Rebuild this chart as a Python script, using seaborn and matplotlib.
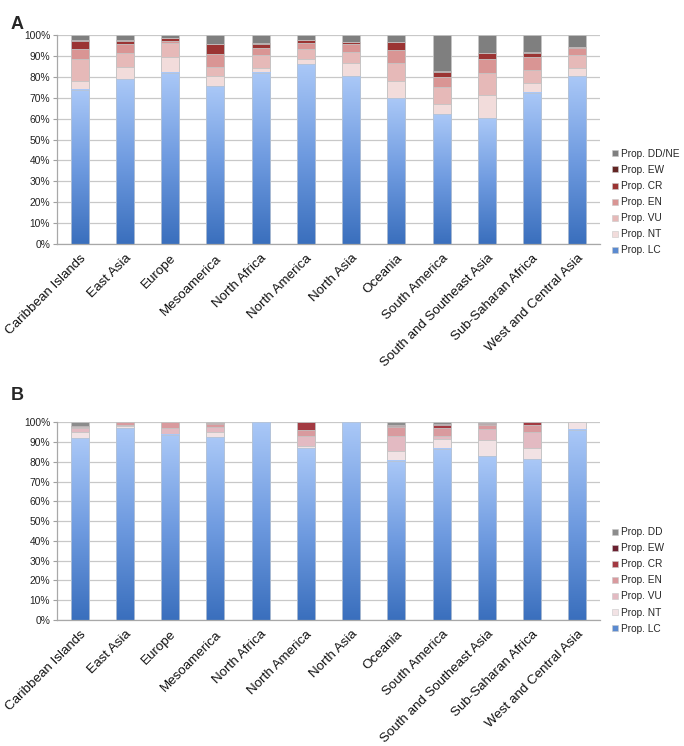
import numpy as np
import seaborn as sns
import matplotlib.pyplot as plt
from matplotlib.colors import LinearSegmentedColormap
from matplotlib.lines import Line2D
from matplotlib.patches import Rectangle

regions = ['Caribbean Islands', 'East Asia', 'Europe', 'Mesoamerica', 'North Africa',
           'North America', 'North Asia', 'Oceania', 'South America',
           'South and Southeast Asia', 'Sub-Saharan Africa', 'West and Central Asia']

# panel A, percent of species per category (LC, NT, VU, EN, CR, EW, DD/NE)
a_lc = [73.8, 78.9, 81.9, 75.6, 81.9, 86.0, 80.3, 69.8, 62.2, 60.2, 72.5, 80.3]
a_nt = [4.1, 6.0, 7.8, 4.9, 2.1, 2.7, 6.2, 8.1, 4.9, 11.1, 4.5, 4.1]
a_vu = [10.5, 6.7, 6.3, 4.4, 6.6, 4.5, 5.2, 8.9, 7.8, 10.6, 6.5, 5.9]
a_en = [4.9, 4.3, 1.1, 6.2, 3.4, 3.1, 4.2, 5.9, 5.1, 6.5, 5.9, 3.4]
a_cr = [4.0, 1.4, 1.5, 4.5, 1.9, 1.3, 0.9, 3.8, 2.5, 2.9, 2.2, 0.7]
a_ew = [0.3, 0.2, 0.1, 0.2, 0.1, 0.1, 0.1, 0.2, 0.2, 0.2, 0.1, 0.1]
a_dd = [2.4, 2.5, 1.3, 4.2, 4.0, 2.3, 3.1, 3.3, 17.3, 8.5, 8.3, 5.5]

# panel B
b_lc = [92.0, 97.0, 93.7, 92.4, 100.0, 86.8, 100.0, 80.5, 86.6, 82.9, 81.4, 96.3]
b_nt = [2.9, 1.3, 0.5, 2.5, 0.0, 1.3, 0.0, 5.1, 5.1, 8.1, 5.5, 3.7]
b_vu = [2.0, 0.5, 2.8, 2.7, 0.0, 5.1, 0.0, 7.3, 1.5, 5.8, 8.2, 0.0]
b_en = [0.6, 1.2, 3.0, 1.4, 0.0, 3.1, 0.0, 4.7, 3.9, 1.8, 3.7, 0.0]
b_cr = [0.3, 0.0, 0.0, 0.6, 0.0, 3.7, 0.0, 0.6, 1.5, 0.7, 1.2, 0.0]
b_ew = [0.2, 0.0, 0.0, 0.2, 0.0, 0.0, 0.0, 0.6, 0.3, 0.4, 0.0, 0.0]
b_dd = [2.0, 0.0, 0.0, 0.2, 0.0, 0.0, 0.0, 1.2, 1.1, 0.3, 0.0, 0.0]

labels_a = ['Prop. LC', 'Prop. NT', 'Prop. VU', 'Prop. EN', 'Prop. CR', 'Prop. EW', 'Prop. DD/NE']
labels_b = ['Prop. LC', 'Prop. NT', 'Prop. VU', 'Prop. EN', 'Prop. CR', 'Prop. EW', 'Prop. DD']

cols_a = ['#4f81c7', '#f2dcdb', '#e6b9b8', '#d99594', '#9b3433', '#632523', '#7f7f7f']
cols_b = ['#4f81c7', '#f2e2e4', '#e3bac2', '#d99a9e', '#a33a42', '#6b2030', '#8c8c8c']

lc_cmap = LinearSegmentedColormap.from_list('lc', ['#3a6fbd', '#6f9be0', '#aac8f7'])

sns.set_theme(style='white')
plt.rcParams['font.family'] = ['Liberation Sans', 'DejaVu Sans']

fig = plt.figure(figsize=(6.84, 7.46), dpi=100)
ax_a = fig.add_axes([0.0833, 0.673, 0.794, 0.280])
ax_b = fig.add_axes([0.0833, 0.169, 0.794, 0.265])


def stacked(ax, series, colors, labels):
    data = np.array(series)
    cum = np.cumsum(data, axis=0)
    # draw the tallest stack first, then cover it layer by layer
    for k in range(len(series) - 1, -1, -1):
        sns.barplot(x=regions, y=cum[k], color=colors[k], width=0.4, ax=ax,
                    edgecolor='#c4c4c4', linewidth=0.6, saturation=1)
    # gradient fill for the LC bars
    grad = np.linspace(0, 1, 256).reshape(-1, 1)
    for p in ax.containers[-1]:
        x0, y0, w, h = p.get_x(), p.get_y(), p.get_width(), p.get_height()
        ax.imshow(grad, extent=[x0, x0 + w, y0, y0 + h], origin='lower',
                  cmap=lc_cmap, aspect='auto', zorder=p.get_zorder() + 0.1)
        ax.add_patch(Rectangle((x0, y0), w, h, fill=False, edgecolor='#b8c4d4',
                               linewidth=0.6, zorder=p.get_zorder() + 0.2))

    ax.set_xlim(-0.5, 11.5)
    ax.set_ylim(0, 100)
    ax.set_yticks(range(0, 101, 10))
    ax.set_yticklabels([f'{v}%' for v in range(0, 101, 10)], fontsize=7.4, color='#222222')
    ax.set_xticks(range(len(regions)))
    ax.set_xticklabels(regions, rotation=45, ha='right', rotation_mode='anchor',
                       fontsize=9.6, color='#111111')
    ax.set_xticks(np.arange(-0.5, 12, 1), minor=True)
    ax.tick_params(axis='x', which='major', length=0, pad=6)
    ax.tick_params(axis='x', which='minor', length=4, color='#a0a0a0', width=0.8, direction='out')
    ax.tick_params(axis='y', length=3, color='#a0a0a0', width=0.8, direction='out', pad=2, left=True)
    ax.yaxis.grid(True, color='#c8c8c8', linewidth=0.9)
    ax.set_axisbelow(True)
    for s in ['top', 'right']:
        ax.spines[s].set_visible(False)
    for s in ['left', 'bottom']:
        ax.spines[s].set_color('#a8a8a8')
        ax.spines[s].set_linewidth(0.9)
    ax.set_xlabel('')
    ax.set_ylabel('')

    handles = [Line2D([], [], marker='s', linestyle='none', markersize=4.5,
                      markerfacecolor=c, markeredgecolor='#c8c8c8', markeredgewidth=0.4)
               for c in colors]
    handles[0].set_markerfacecolor('#5a8ad0')
    ax.legend(handles[::-1], labels[::-1], loc='center left', bbox_to_anchor=(1.0, 0.2),
              frameon=False, fontsize=7.3, handletextpad=0.05, labelspacing=0.6,
              handlelength=1.0, borderaxespad=0.6)


stacked(ax_a, [a_lc, a_nt, a_vu, a_en, a_cr, a_ew, a_dd], cols_a, labels_a)
stacked(ax_b, [b_lc, b_nt, b_vu, b_en, b_cr, b_ew, b_dd], cols_b, labels_b)

fig.text(0.015, 0.978, 'A', fontsize=13, fontweight='bold', va='top')
fig.text(0.015, 0.481, 'B', fontsize=13, fontweight='bold', va='top')

fig.savefig('out.png', dpi=100)
